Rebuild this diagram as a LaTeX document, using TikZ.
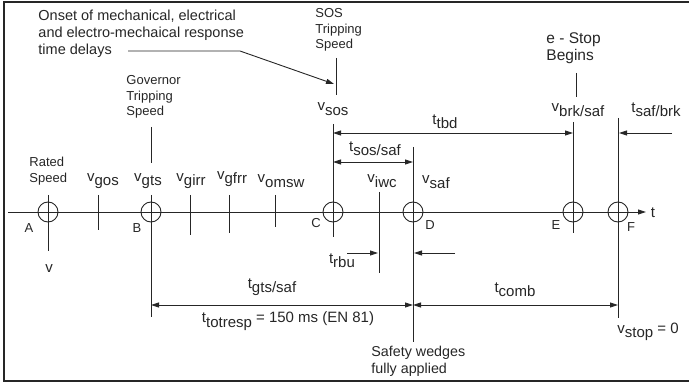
\documentclass[tikz,border=0pt]{standalone}
\usepackage{fontspec}
\setmainfont{Liberation Sans}
\usetikzlibrary{arrows.meta, positioning}
\definecolor{ink}{HTML}{262626}
\newcommand{\sublbl}[2]{#1\raisebox{-0.55ex}{#2}}
\tikzset{
  ring/.style={circle, draw=ink, line width=0.9pt, minimum size=20pt, inner sep=0pt},
  tlbl/.style={text=ink, font=\fontsize{15}{17}\selectfont, inner sep=0pt},
  note/.style={text=ink, font=\fontsize{13}{15.5}\selectfont, align=left, anchor=west, inner sep=0pt},
  pname/.style={text=ink, font=\fontsize{13}{15}\selectfont, inner sep=0pt},
  dim/.style={<->, ink},
}
\begin{document}
\begin{tikzpicture}[x=1pt, y=-1pt, line width=0.9pt, >={Triangle[length=8pt, width=5pt]}]

\useasboundingbox (0,0) rectangle (689,385);

% Frame (open on the right)
\draw[ink, line width=1.3pt] (689,2) -- (4,2) -- (4,381) -- (689,381);

% --- Time axis ---
\coordinate (ax0) at (8,212);
\coordinate (ax1) at (646,212);
\draw[->, ink] (ax0) -- (ax1);
\node[tlbl] (tax) at (653,213) {t};

% --- Event points ---
\foreach \p/\x in {A/48,B/151,C/333,D/413,E/573,F/618}
  \node[ring] (\p) at (\x,212) {};

% --- Vertical marks ---
\foreach \n/\x/\t/\b in {A/48/195/251, B/151/195/317, C/333/124/237, D/413/147/342,
    E/573/122/233, F/618/118/318, gos/98/195/230, girr/190/195/235,
    gfrr/229/195/233, omsw/275/195/227, iwc/379/192/273}{
  \coordinate (\n-t) at (\x,\t);
  \coordinate (\n-b) at (\x,\b);
  \draw[ink] (\n-t) -- (\n-b);
}

% point names
\node[pname] (nA) at (29,228) {A};
\node[pname] (nB) at (137,228) {B};
\node[pname] (nC) at (316,223) {C};
\node[pname] (nD) at (430,225) {D};
\node[pname] (nE) at (556,225) {E};
\node[pname] (nF) at (631,227) {F};

% --- Speed labels ---
\node[tlbl] (vA) at (49,269) {v};
\node[tlbl] (vgos) at (103,181) {\sublbl{v}{gos}};
\node[tlbl] (vgts) at (148,181) {\sublbl{v}{gts}};
\node[tlbl] (vgirr) at (191,181) {\sublbl{v}{girr}};
\node[tlbl] (vgfrr) at (232,179) {\sublbl{v}{gfrr}};
\node[tlbl] (vomsw) at (281,181) {\sublbl{v}{omsw}};
\node[tlbl] (vsos) at (333,109) {\sublbl{v}{sos}};
\node[tlbl] (viwc) at (382,181) {\sublbl{v}{iwc}};
\node[tlbl] (vsaf) at (436,182) {\sublbl{v}{saf}};
\node[tlbl] (vbrk) at (578,110) {\sublbl{v}{brk/saf}};
\node[tlbl] (vstop) at (648,332) {\sublbl{v}{stop} = 0};

% --- Notes and their pointers ---
\node[note, font=\fontsize{14.5}{17}\selectfont] (onset) at (38,34)
  {Onset of mechanical, electrical\\and electro-mechaical response\\time delays};
\coordinate (on-a) at (128,51);
\coordinate (on-b) at (240,51);
\coordinate (on-c) at (334,84);
\draw[->, ink] (on-a) -- (on-b) -- (on-c);

\node[note] (sos) at (315,30) {SOS\\Tripping\\Speed};
\coordinate (sos-t) at (336,58);
\coordinate (sos-b) at (336,95);
\draw[ink] (sos-t) -- (sos-b);

\node[note] (gov) at (126,97) {Governor\\Tripping\\Speed};
\coordinate (gov-t) at (151,127);
\coordinate (gov-b) at (151,163);
\draw[ink] (gov-t) -- (gov-b);

\node[note] (rated) at (29,171) {Rated\\Speed};

\node[note, font=\fontsize{15.5}{17}\selectfont] (estop) at (546,48) {e - Stop\\Begins};
\coordinate (es-t) at (576,73);
\coordinate (es-b) at (576,97);
\draw[ink] (es-t) -- (es-b);

\node[note, font=\fontsize{14.3}{17}\selectfont] (wedge) at (371,361) {Safety wedges\\fully applied};

% --- Time intervals ---
\coordinate (tbd-l) at (333,133);
\coordinate (tbd-r) at (573,133);
\draw[dim] (tbd-l) -- (tbd-r);
\node[tlbl] (ttbd) at (445,122) {\sublbl{t}{tbd}};

\coordinate (ss-l) at (333,162);
\coordinate (ss-r) at (413,162);
\draw[dim] (ss-l) -- (ss-r);
\node[tlbl] (tss) at (375,149) {\sublbl{t}{sos/saf}};

\coordinate (sb-a) at (672,133);
\coordinate (sb-b) at (619,133);
\draw[->, ink] (sb-a) -- (sb-b);
\node[tlbl] (tsb) at (656,110) {\sublbl{t}{saf/brk}};

\coordinate (rb-a) at (347,253);
\coordinate (rb-b) at (378,253);
\draw[->, ink] (rb-a) -- (rb-b);
\node[tlbl] (trbu) at (342,261) {\sublbl{t}{rbu}};
\coordinate (rb-c) at (455,253);
\coordinate (rb-d) at (414,253);
\draw[->, ink] (rb-c) -- (rb-d);

\coordinate (gs-l) at (151,305);
\coordinate (gs-r) at (413,305);
\draw[dim] (gs-l) -- (gs-r);
\node[tlbl] (tgs) at (272,287) {\sublbl{t}{gts/saf}};
\node[tlbl] (ttot) at (288,321) {\sublbl{t}{totresp} = 150 ms (EN 81)};

\coordinate (cb-l) at (413,305);
\coordinate (cb-r) at (618,305);
\draw[dim] (cb-l) -- (cb-r);
\node[tlbl] (tcomb) at (515,290) {\sublbl{t}{comb}};

\end{tikzpicture}
\end{document}
